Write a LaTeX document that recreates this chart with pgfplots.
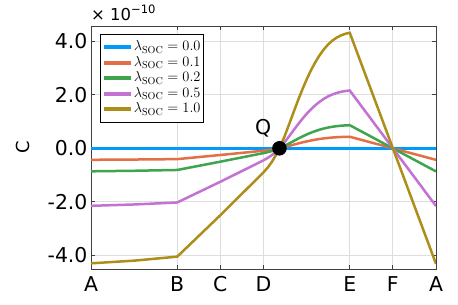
\documentclass[border=0pt]{standalone}
\usepackage{fix-cm}
\usepackage[no-math]{fontspec}
\setmainfont{DejaVu Sans}
\usepackage{pgfplots}
\pgfplotsset{compat=1.18}
\usepackage{pgfplotstable}
\definecolor{cA}{HTML}{009AFA}
\definecolor{cB}{HTML}{E36F47}
\definecolor{cC}{HTML}{3EA44E}
\definecolor{cD}{HTML}{C371D2}
\definecolor{cE}{HTML}{AC8E18}

\pgfplotstableread{
x     y0  y1     y2     y5     y10
0     0   -0.430 -0.860 -2.150 -4.300
1     0   -0.420 -0.840 -2.100 -4.200
2     0   -0.405 -0.810 -2.025 -4.050
3     0   -0.250 -0.500 -1.250 -2.500
4.0   0   -0.090 -0.180 -0.450 -0.900
4.1   0   -0.072 -0.143 -0.358 -0.716
4.2   0   -0.049 -0.099 -0.247 -0.493
4.3   0   -0.022 -0.044 -0.111 -0.221
4.4   0    0.011  0.022  0.055  0.109
4.5   0    0.050  0.099  0.249  0.497
4.6   0    0.092  0.185  0.462  0.924
4.7   0    0.136  0.272  0.681  1.361
4.8   0    0.179  0.358  0.894  1.788
4.9   0    0.220  0.439  1.098  2.195
5.0   0    0.257  0.515  1.287  2.573
5.1   0    0.291  0.583  1.457  2.913
5.2   0    0.321  0.643  1.607  3.214
5.3   0    0.348  0.695  1.738  3.476
5.4   0    0.370  0.740  1.850  3.699
5.5   0    0.388  0.777  1.942  3.883
5.6   0    0.403  0.806  2.015  4.029
5.7   0    0.414  0.828  2.071  4.141
5.8   0    0.422  0.845  2.112  4.223
5.9   0    0.428  0.856  2.141  4.281
6.0   0    0.432  0.864  2.160  4.320
7     0    0.000  0.000  0.000  0.000
8     0   -0.432 -0.864 -2.160 -4.320
}\datatable

\begin{document}
\begin{tikzpicture}
\useasboundingbox (-91bp,-36bp) rectangle (367bp,269bp);
\begin{axis}[
  scale only axis, width=345bp, height=243bp,
  xmin=0, xmax=8, ymin=-4.512, ymax=4.572,
  xtick={0,2,3,4,6,7,8}, xticklabels={A,B,C,D,E,F,A},
  ytick={-4,-2,0,2,4},
  grid=major, major grid style={draw=black!13, line width=0.8bp},
  axis line style={draw=black!75, line width=0.9bp},
  tick align=inside, major tick length=4bp,
  tick style={draw=black!75, line width=0.8bp},
  tick label style={font=\fontsize{20.5}{24}\selectfont},
  yticklabel style={/pgf/number format/.cd, fixed, fixed zerofill, precision=1, assume math mode=true},
  xticklabel style={yshift=-4bp},
  scaled y ticks=false,
  ylabel={C},
  ylabel style={font=\fontsize{18}{20}\selectfont, at={(axis description cs:-0.197,0.5)}, anchor=center},
  legend style={at={(axis description cs:0.026,0.967)}, anchor=north west,
    draw=black, line width=0.8bp, fill=white, inner xsep=2bp, inner ysep=5bp,
    font=\fontsize{14.5}{15}\selectfont,
    nodes={inner sep=0.5bp, text height=11bp, text depth=3.5bp},
    cells={anchor=west}, row sep=0pt},
  legend image code/.code={\draw[line width=4bp] (0bp,0bp) -- (27bp,0bp);},
  every axis plot/.append style={line width=2.5bp},
  extra description/.code={
    \node[anchor=base west, inner sep=0pt, font=\fontsize{16.5}{18}\selectfont] at (0.0,1.022) {× 10\raisebox{7.4bp}{\fontsize{11.6}{12}\selectfont −10}};
  },
]
\addplot[cA] table[x=x,y=y0] {\datatable};
\addlegendentry{$\lambda_{\mathrm{SOC}} = 0.0$}
\addplot[cB] table[x=x,y=y1] {\datatable};
\addlegendentry{$\lambda_{\mathrm{SOC}} = 0.1$}
\addplot[cC] table[x=x,y=y2] {\datatable};
\addlegendentry{$\lambda_{\mathrm{SOC}} = 0.2$}
\addplot[cD] table[x=x,y=y5] {\datatable};
\addlegendentry{$\lambda_{\mathrm{SOC}} = 0.5$}
\addplot[cE] table[x=x,y=y10] {\datatable};
\addlegendentry{$\lambda_{\mathrm{SOC}} = 1.0$}
\addplot[only marks, mark=*, mark size=6bp, black, forget plot] coordinates {(4.37,0)};
\node[font=\fontsize{20.5}{24}\selectfont, anchor=center] at (axis cs:3.99,0.75) {Q};
\end{axis}
\end{tikzpicture}
\end{document}
